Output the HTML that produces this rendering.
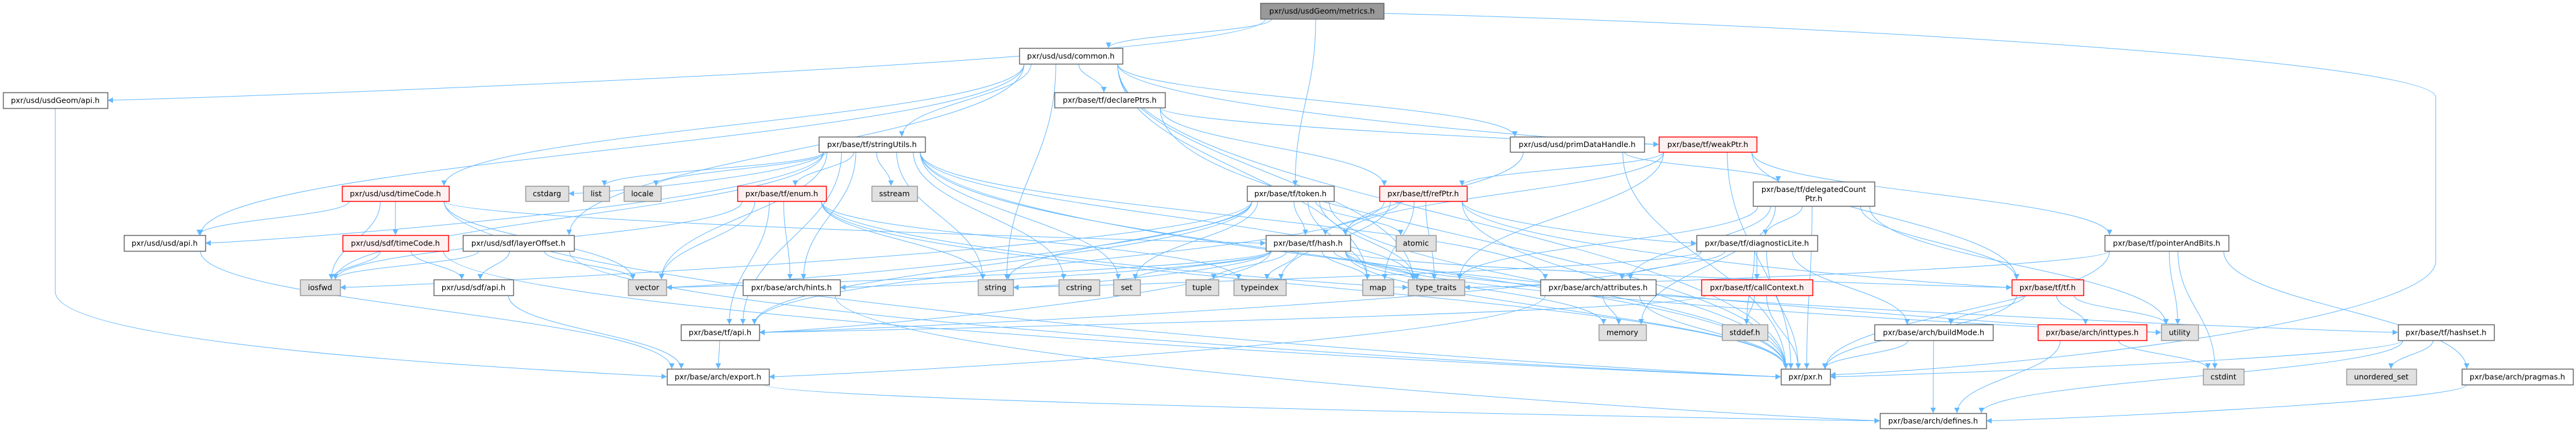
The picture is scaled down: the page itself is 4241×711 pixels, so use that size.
<!DOCTYPE html>
<html><head><meta charset="utf-8"><style>
html,body{margin:0;padding:0;background:#fff;}
svg{display:block;}
text{font-family:"DejaVu Sans","Liberation Sans",sans-serif;font-size:12.5px;fill:#000;}
</style></head><body>
<svg id="g" width="4241" height="711" viewBox="0 0 4241 711" xmlns="http://www.w3.org/2000/svg">
<defs><marker id="ah" viewBox="0 0 10 10" refX="10" refY="5" markerWidth="11" markerHeight="9" markerUnits="userSpaceOnUse" orient="auto"><path d="M0,0 L10,5 L0,10 z" fill="#63b8ff"/></marker></defs>
<g id="edges" fill="none" stroke="#63b8ff" stroke-width="1">
<path d="M2278,22 C3000,40 4010,100 4010,160 L4010,430 C4010,520 3400,600 3013,617" marker-end="url(#ah)"/>
<path d="M91,178 L91,480 C91,560 700,600 1098,620" marker-end="url(#ah)"/>
</g>
<g id="nodes"></g>
</svg>
<script>
var N={
metrics:[2075,2278,5,31,"pxr/usd/usdGeom/metrics.h","k"],
common:[1678,1848,79,105,"pxr/usd/usd/common.h","w"],
usdGeomApi:[5,177,152,178,"pxr/usd/usdGeom/api.h","w"],
declarePtrs:[1736,1918,152,177,"pxr/base/tf/declarePtrs.h","w"],
stringUtils:[1348,1523,225,250,"pxr/base/tf/stringUtils.h","w"],
primDataHandle:[2486,2707,225,250,"pxr/usd/usd/primDataHandle.h","w"],
weakPtr:[2731,2892,225,250,"pxr/base/tf/weakPtr.h","r"],
delegated:[2886,3086,299,339,"pxr/base/tf/delegatedCount|Ptr.h","w"],
usdTimeCode:[563,739,306,331,"pxr/usd/usd/timeCode.h","r"],
enumh:[1214,1360,306,331,"pxr/base/tf/enum.h","r"],
sstream:[1435,1510,306,331,"sstream","g"],
cstdarg:[865,936,306,331,"cstdarg","g"],
list:[960,1003,306,331,"list","g"],
locale:[1027,1088,306,331,"locale","g"],
token:[2053,2196,306,331,"pxr/base/tf/token.h","w"],
refPtr:[2271,2415,306,331,"pxr/base/tf/refPtr.h","r"],
usdApi:[204,338,387,413,"pxr/usd/usd/api.h","w"],
sdfTimeCode:[564,738,387,413,"pxr/usd/sdf/timeCode.h","r"],
layerOffset:[762,945,387,413,"pxr/usd/sdf/layerOffset.h","w"],
hash:[2084,2223,387,413,"pxr/base/tf/hash.h","w"],
atomic:[2298,2364,387,413,"atomic","g"],
diagLite:[2793,2992,387,413,"pxr/base/tf/diagnosticLite.h","w"],
pab:[3465,3669,387,413,"pxr/base/tf/pointerAndBits.h","w"],
iosfwd:[494,560,460,486,"iosfwd","g"],
sdfApi:[714,845,460,486,"pxr/usd/sdf/api.h","w"],
vector:[1034,1097,460,486,"vector","g"],
hints:[1223,1383,460,486,"pxr/base/arch/hints.h","w"],
string:[1610,1668,460,486,"string","g"],
cstring:[1743,1810,460,486,"cstring","g"],
set:[1833,1877,460,486,"set","g"],
tuple:[1952,2006,460,486,"tuple","g"],
typeindex:[2031,2117,460,486,"typeindex","g"],
map:[2243,2294,460,486,"map","g"],
type_traits:[2318,2411,460,486,"type_traits","g"],
attributes:[2536,2726,460,486,"pxr/base/arch/attributes.h","w"],
callContext:[2801,2984,460,486,"pxr/base/tf/callContext.h","r"],
tfh:[3312,3430,460,486,"pxr/base/tf/tf.h","r"],
tfApi:[1121,1250,534,560,"pxr/base/tf/api.h","w"],
memory:[2632,2710,534,560,"memory","g"],
stddef:[2835,2910,534,560,"stddef.h","g"],
buildMode:[3086,3281,534,560,"pxr/base/arch/buildMode.h","w"],
inttypes:[3355,3534,534,560,"pxr/base/arch/inttypes.h","r"],
utility:[3558,3619,534,560,"utility","g"],
hashset:[3948,4106,534,560,"pxr/base/tf/hashset.h","w"],
exporth:[1098,1266,607,633,"pxr/base/arch/export.h","w"],
pxr:[2932,3013,607,633,"pxr/pxr.h","w"],
cstdint:[3627,3694,607,633,"cstdint","g"],
unordered_set:[3863,3978,607,633,"unordered_set","g"],
pragmas:[4053,4236,607,633,"pxr/base/arch/pragmas.h","w"],
defines:[3095,3270,680,705,"pxr/base/arch/defines.h","w"]
};
var E=[
["metrics","common"],["metrics","usdGeomApi"],["metrics","token"],
["common","usdApi"],["common","usdTimeCode"],["common","stringUtils"],["common","declarePtrs"],["common","string"],["common","primDataHandle"],["common","layerOffset"],["common","type_traits"],["common","map"],["common","pxr"],["common","weakPtr"],
["declarePtrs","refPtr"],["declarePtrs","weakPtr"],["declarePtrs","pxr"],
["stringUtils","enumh"],["stringUtils","sstream"],["stringUtils","cstdarg"],["stringUtils","list"],["stringUtils","locale"],["stringUtils","vector"],["stringUtils","string"],["stringUtils","cstring"],["stringUtils","set"],["stringUtils","hints"],["stringUtils","tfApi"],["stringUtils","pxr"],["stringUtils","iosfwd"],["stringUtils","type_traits"],["stringUtils","attributes"],["stringUtils","utility"],["stringUtils","usdApi"],
["primDataHandle","delegated"],["primDataHandle","pxr"],["primDataHandle","hash"],
["weakPtr","refPtr"],["weakPtr","hash"],["weakPtr","tfh"],["weakPtr","pxr"],["weakPtr","pab"],["weakPtr","type_traits"],
["delegated","diagLite"],["delegated","tfh"],["delegated","memory"],["delegated","utility"],["delegated","type_traits"],["delegated","pxr"],["delegated","attributes"],
["usdTimeCode","sdfTimeCode"],["usdTimeCode","usdApi"],["usdTimeCode","iosfwd"],["usdTimeCode","vector"],["usdTimeCode","pxr"],["usdTimeCode","hash"],
["sdfTimeCode","iosfwd"],["sdfTimeCode","sdfApi"],["sdfTimeCode","pxr"],
["layerOffset","sdfApi"],["layerOffset","iosfwd"],["layerOffset","vector"],["layerOffset","pxr"],
["enumh","hints"],["enumh","string"],["enumh","vector"],["enumh","tfApi"],["enumh","typeindex"],["enumh","pxr"],["enumh","type_traits"],["enumh","iosfwd"],
["token","hash"],["token","atomic"],["token","set"],["token","string"],["token","vector"],["token","type_traits"],["token","tfApi"],["token","pxr"],["token","iosfwd"],["token","map"],
["refPtr","hash"],["refPtr","diagLite"],["refPtr","type_traits"],["refPtr","map"],["refPtr","tfApi"],["refPtr","pxr"],["refPtr","typeindex"],["refPtr","tfh"],
["hash","tuple"],["hash","typeindex"],["hash","map"],["hash","type_traits"],["hash","memory"],["hash","vector"],["hash","set"],["hash","string"],["hash","tfApi"],["hash","pxr"],["hash","tfh"],["hash","hints"],["hash","utility"],["hash","hashset"],
["diagLite","callContext"],["diagLite","attributes"],["diagLite","stddef"],["diagLite","buildMode"],["diagLite","tfApi"],["diagLite","pxr"],["diagLite","string"],
["pab","utility"],["pab","cstdint"],["pab","pxr"],["pab","pragmas"],["pab","type_traits"],
["attributes","memory"],["attributes","pxr"],["attributes","exporth"],
["callContext","stddef"],["callContext","pxr"],["callContext","tfApi"],
["tfh","buildMode"],["tfh","inttypes"],["tfh","utility"],["tfh","pxr"],
["tfApi","exporth"],["sdfApi","exporth"],["usdApi","exporth"],
["hints","defines"],["buildMode","pxr"],["buildMode","defines"],["inttypes","cstdint"],["inttypes","defines"],
["hashset","unordered_set"],["hashset","pxr"],["hashset","defines"],["pragmas","defines"],["exporth","defines"]
];
var NS="http://www.w3.org/2000/svg";
function clamp(v,a,b){return Math.max(a,Math.min(b,v));}
var eg=document.getElementById("edges"),ng=document.getElementById("nodes");
E.forEach(function(e){
 var s=N[e[0]],t=N[e[1]];
 var scx=(s[0]+s[1])/2,tcx=(t[0]+t[1])/2,d;
 if(t[2]>s[3]+5){
  var sx=clamp(scx+(tcx-scx)*0.2,s[0]+8,s[1]-8),sy=s[3];
  var tx=clamp(tcx+(scx-tcx)*0.15,t[0]+8,t[1]-8),ty=t[2];
  var dy=ty-sy,dx=Math.abs(tx-sx);
  if(dx>6*dy&&dx>400){
   var right=tx<sx; tx=right?t[1]:t[0]; ty=(t[2]+t[3])/2;
   d="M"+sx+","+sy+" C"+sx+","+(sy+dy*0.6)+" "+(tx+(right?60:-60))+","+ty+" "+tx+","+ty;
  } else {
   d="M"+sx+","+sy+" C"+sx+","+(sy+dy*0.45)+" "+tx+","+(ty-dy*0.45)+" "+tx+","+ty;
  }
 } else {
  var right2=tcx<scx;
  var sx2=right2?s[0]:s[1],sy2=(s[2]+s[3])/2,tx2=right2?t[1]:t[0],ty2=(t[2]+t[3])/2;
  d="M"+sx2+","+sy2+" C"+(sx2+(tx2-sx2)*0.4)+","+sy2+" "+(sx2+(tx2-sx2)*0.6)+","+ty2+" "+tx2+","+ty2;
 }
 var p=document.createElementNS(NS,"path");p.setAttribute("d",d);p.setAttribute("marker-end","url(#ah)");eg.appendChild(p);
});
for(var k in N){var n=N[k];
 var fill="#fff",st="#666";
 if(n[5]=="g"){fill="#e0e0e0";st="#999";}
 if(n[5]=="r"){fill="#fff0f0";st="#f00";}
 if(n[5]=="k"){fill="#999";st="#666";}
 var r=document.createElementNS(NS,"rect");
 r.setAttribute("x",n[0]+0.5);r.setAttribute("y",n[2]+0.5);r.setAttribute("width",n[1]-n[0]);r.setAttribute("height",n[3]-n[2]);
 r.setAttribute("fill",fill);r.setAttribute("stroke",st);r.setAttribute("stroke-width","1.5");ng.appendChild(r);
 var lines=n[4].split("|"),cx=(n[0]+n[1])/2,cy=(n[2]+n[3])/2;
 lines.forEach(function(L,i){
  var t=document.createElementNS(NS,"text");
  t.setAttribute("x",cx);t.setAttribute("y",cy+4.5+(i-(lines.length-1)/2)*15);
  t.setAttribute("text-anchor","middle");t.textContent=L;ng.appendChild(t);
 });
}
</script>
</body></html>
